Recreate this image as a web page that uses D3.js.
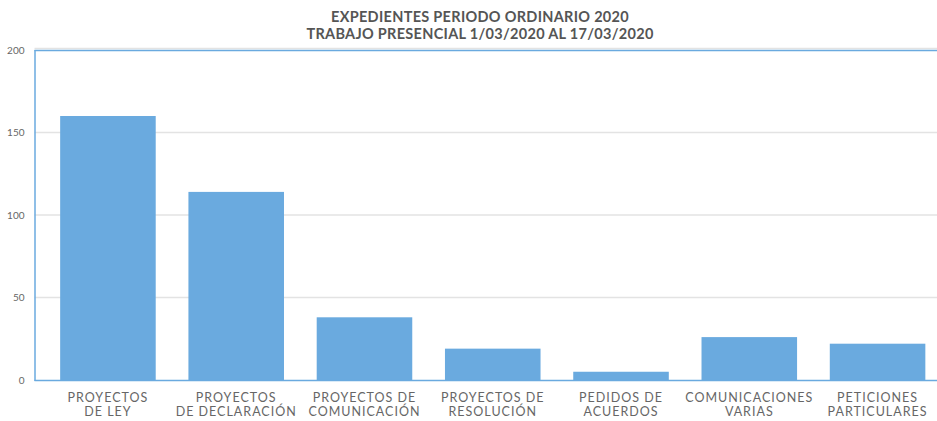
<!DOCTYPE html>
<html><head><meta charset="utf-8">
<script src="https://cdn.jsdelivr.net/npm/d3@7"></script>
<style>body{margin:0;background:#fff}svg{display:block}</style>
</head><body>
<script>
const categories = ["PROYECTOS\nDE LEY","PROYECTOS\nDE DECLARACIÓN","PROYECTOS DE\nCOMUNICACIÓN","PROYECTOS DE\nRESOLUCIÓN","PEDIDOS DE\nACUERDOS","COMUNICACIONES\nVARIAS","PETICIONES\nPARTICULARES"];
const values = [160, 114, 38, 19, 5, 26, 22];
const yTicks = [0, 50, 100, 150, 200];
const titleLines = ["EXPEDIENTES PERIODO ORDINARIO 2020","TRABAJO PRESENCIAL 1/03/2020 AL 17/03/2020"];

const W = 937, H = 421;
const m = {left:34.5, top:50, bottom:380, right:951};
const svg = d3.select("body").append("svg").attr("width", W).attr("height", H);

const x = d3.scaleBand().domain(categories).range([m.left, m.right]).paddingInner(0.255).paddingOuter(0.2);
const y = d3.scaleLinear().domain([0, 200]).range([m.bottom, m.top]);

// gridlines
svg.append("g").selectAll("line").data(yTicks.filter(d => d > 0)).join("line")
  .attr("x1", m.left).attr("x2", m.right)
  .attr("y1", d => y(d) - (d === 200 ? 1.5 : 0)).attr("y2", d => y(d) - (d === 200 ? 1.5 : 0))
  .attr("stroke", "#e3e3e3").attr("stroke-width", 1.5);

// y axis labels
const ya = svg.append("g").attr("transform", `translate(${m.left},0)`)
  .call(d3.axisLeft(y).tickValues(yTicks).tickSize(0).tickPadding(10));
ya.select(".domain").remove();
ya.selectAll("text").attr("fill", "#666").attr("font-family", "Lato, sans-serif").attr("font-size", 10);

// bars
svg.append("g").selectAll("rect").data(values).join("rect")
  .attr("x", (d, i) => x(categories[i])).attr("width", x.bandwidth())
  .attr("y", d => y(d)).attr("height", d => y(0) - y(d))
  .attr("fill", "#6aaadf");

// frame lines
const lc = "#6aaadf";
svg.append("line").attr("x1", m.left).attr("x2", m.right).attr("y1", y(200)+0.5).attr("y2", y(200)+0.5).attr("stroke", lc).attr("stroke-width", 1.5);
svg.append("line").attr("x1", m.left).attr("x2", m.right).attr("y1", y(0)+0.5).attr("y2", y(0)+0.5).attr("stroke", lc).attr("stroke-width", 1.5);
svg.append("line").attr("x1", m.left+0.5).attr("x2", m.left+0.5).attr("y1", y(200)).attr("y2", y(0)+1).attr("stroke", lc).attr("stroke-width", 1.5);

// x labels (two separate lines)
const labelLines = [];
categories.forEach(c => c.split("\n").forEach((s, k) => labelLines.push({c, s, k})));
svg.append("g").selectAll("text").data(labelLines).join("text")
  .attr("text-anchor", "middle").attr("fill", "#666")
  .attr("font-family", "Lato, sans-serif").attr("font-size", 12.5).attr("letter-spacing", 1)
  .attr("x", d => x(d.c) + x.bandwidth()/2).attr("y", d => 402 + d.k*14)
  .text(d => d.s);

// title
svg.append("g").selectAll("text").data(titleLines).join("text")
  .attr("x", 480).attr("y", (d, i) => 22 + i*17)
  .attr("text-anchor", "middle").attr("fill", "#555").attr("font-weight", "bold")
  .attr("font-family", "Lato, sans-serif").attr("font-size", 14.5).attr("letter-spacing", 0.3)
  .text(d => d);
</script>
</body></html>
